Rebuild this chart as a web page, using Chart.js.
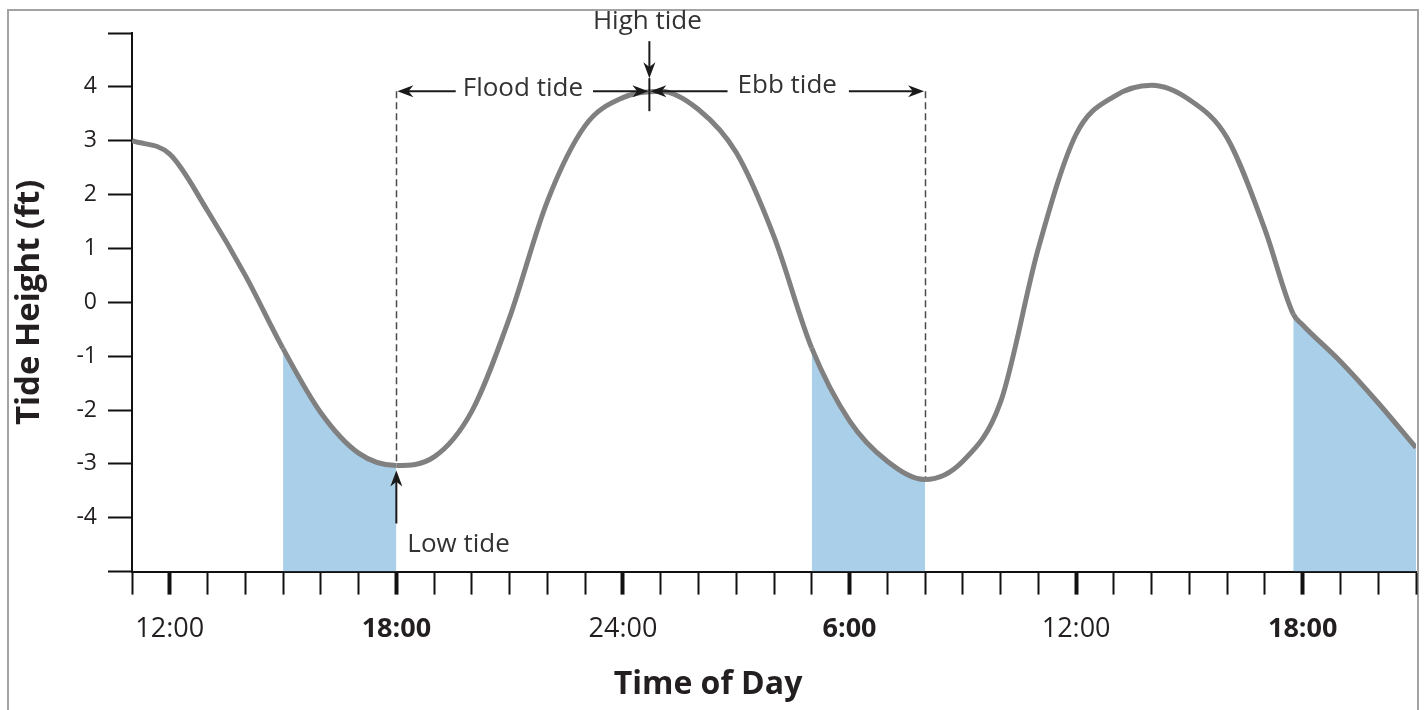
<!DOCTYPE html>
<html>
<head>
<meta charset="utf-8">
<title>Tide Height</title>
<script src="https://cdn.jsdelivr.net/npm/chart.js@4.4.1/dist/chart.umd.min.js"></script>
<style>
  html, body { margin: 0; padding: 0; background: #fff; }
  #wrap { width: 1424px; height: 710px; }
</style>
</head>
<body>
<div id="wrap"><canvas id="tideChart"></canvas></div>
<script>
// tide curve, hours counted from midnight of day 1 (24 = midnight, 30 = 6:00 next day)
var hours = [11, 12, 13, 14, 15, 16, 17, 18, 19, 20,
  21, 22, 23, 24, 25, 26, 27, 28, 29, 30,
  31, 32, 33, 34, 35, 36, 37, 38, 39, 40,
  41, 41.75, 42, 43, 44, 45];
var heights = [3.0, 2.75, 1.7, 0.5, -0.86, -2.05, -2.8, -3.03, -2.87, -2.02,
  -0.28, 1.88, 3.28, 3.8, 3.92, 3.58, 2.78, 1.22, -0.85, -2.2,
  -2.95, -3.29, -2.95, -1.85, 1.0, 3.12, 3.82, 4.03, 3.76, 3.05,
  1.35, -0.22, -0.42, -1.1, -1.87, -2.7];

// shaded stretches of falling water
var shadedRanges = [[15, 18], [29, 32], [41.75, 45]];

// x tick labels
var labelHours = [12, 18, 24, 30, 36, 42];
var labelTexts = ['12:00', '18:00', '24:00', '6:00', '12:00', '18:00'];
var boldHours = [18, 30, 42];

// the tide cycle that is annotated
var lowTideHour = 18;
var highTideHour = 24.7;
var nextLowHour = 32;

var FONT = '"Open Sans", "Noto Sans", sans-serif';
var INK = '#231f20';
var SHADE = 'rgb(170, 207, 233)';

var points = hours.map(function (h, i) { return { x: h, y: heights[i] }; });

function heightAt(h) {
  return heights[hours.indexOf(h)];
}

// high tide level = highest reading between the two lows
var highTideHeight = Math.max.apply(null, heights.filter(function (v, i) {
  return hours[i] > lowTideHour && hours[i] < nextLowHour;
}));

function isShaded(a, b) {
  return shadedRanges.some(function (r) { return a >= r[0] && b <= r[1]; });
}

function drawArrow(ctx, x1, y1, x2, y2) {
  var a = Math.atan2(y2 - y1, x2 - x1);
  var c = Math.cos(a), s = Math.sin(a);
  var len = 16, half = 6;
  ctx.beginPath();
  ctx.moveTo(x1, y1);
  ctx.lineTo(x2 - c * len * 0.6, y2 - s * len * 0.6);
  ctx.stroke();
  ctx.beginPath();
  ctx.moveTo(x2, y2);
  ctx.lineTo(x2 - c * len - s * half, y2 - s * len + c * half);
  ctx.lineTo(x2 - c * len * 0.7, y2 - s * len * 0.7);
  ctx.lineTo(x2 - c * len + s * half, y2 - s * len - c * half);
  ctx.closePath();
  ctx.fill();
}

var framePlugin = {
  id: 'frame',
  beforeDraw: function (chart) {
    var ctx = chart.ctx;
    ctx.save();
    ctx.strokeStyle = '#a3a3a3';
    ctx.lineWidth = 2;
    ctx.strokeRect(8, 10, 1410, 760);
    ctx.restore();
  }
};

var tidePlugin = {
  id: 'tideNotes',
  beforeDatasetsDraw: function (chart) {
    var ctx = chart.ctx, xs = chart.scales.x, ys = chart.scales.y;
    var level = ys.getPixelForValue(highTideHeight);
    ctx.save();
    ctx.strokeStyle = '#4a4a4a';
    ctx.lineWidth = 1.5;
    ctx.setLineDash([7, 4]);
    [lowTideHour, nextLowHour].forEach(function (h) {
      var x = Math.round(xs.getPixelForValue(h)) + 0.5;
      ctx.beginPath();
      ctx.moveTo(x, level);
      ctx.lineTo(x, ys.getPixelForValue(heightAt(h)));
      ctx.stroke();
    });
    ctx.restore();
  },
  afterDatasetsDraw: function (chart) {
    var ctx = chart.ctx, xs = chart.scales.x, ys = chart.scales.y;
    var level = ys.getPixelForValue(highTideHeight);
    var xLow = xs.getPixelForValue(lowTideHour);
    var xNext = xs.getPixelForValue(nextLowHour);
    var xPeak = xs.getPixelForValue(highTideHour);
    ctx.save();
    ctx.strokeStyle = '#1a1a1a';
    ctx.lineWidth = 2;
    ctx.font = '26px ' + FONT;
    ctx.textBaseline = 'middle';
    ctx.textAlign = 'center';

    // flood tide
    var mid = (xLow + xPeak) / 2;
    var w = ctx.measureText('Flood tide').width;
    ctx.fillStyle = '#333';
    ctx.fillText('Flood tide', mid, level - 3);
    ctx.fillStyle = '#1a1a1a';
    drawArrow(ctx, mid - w / 2 - 7, level, xLow + 1, level);
    drawArrow(ctx, mid + w / 2 + 10, level, xPeak - 1, level);

    // ebb tide
    mid = (xPeak + xNext) / 2;
    w = ctx.measureText('Ebb tide').width;
    ctx.fillStyle = '#333';
    ctx.fillText('Ebb tide', mid, level - 6);
    ctx.fillStyle = '#1a1a1a';
    drawArrow(ctx, mid - w / 2 - 10, level, xPeak + 1, level);
    drawArrow(ctx, mid + w / 2 + 12, level, xNext - 1, level);

    // high tide
    ctx.fillStyle = '#333';
    ctx.fillText('High tide', xPeak - 2, level - 70);
    ctx.fillStyle = '#1a1a1a';
    drawArrow(ctx, xPeak, level - 50, xPeak, level - 13);
    ctx.beginPath();
    ctx.moveTo(xPeak, level - 13);
    ctx.lineTo(xPeak, level + 20);
    ctx.stroke();

    // low tide
    var yLow = ys.getPixelForValue(heightAt(lowTideHour));
    drawArrow(ctx, xLow, yLow + 58, xLow, yLow + 5);
    ctx.textAlign = 'left';
    ctx.fillStyle = '#333';
    ctx.fillText('Low tide', xLow + 11, yLow + 79);
    ctx.restore();
  }
};

var ctx = document.getElementById('tideChart').getContext('2d');
var tideChart = new Chart(ctx, {
  type: 'line',
  data: {
    datasets: [{
      label: 'Tide height',
      data: points,
      borderColor: '#808080',
      borderWidth: 5,
      pointRadius: 0,
      fill: 'start',
      backgroundColor: 'rgba(0,0,0,0)',
      cubicInterpolationMode: 'monotone',
      segment: {
        backgroundColor: function (c) {
          return isShaded(c.p0.parsed.x, c.p1.parsed.x) ? SHADE : 'rgba(0,0,0,0)';
        }
      }
    }]
  },
  options: {
    responsive: true,
    maintainAspectRatio: false,
    animation: false,
    layout: { padding: { top: 33, right: 8, left: 0, bottom: 0 } },
    plugins: {
      legend: { display: false },
      tooltip: { enabled: false },
      title: {
        display: true,
        position: 'bottom',
        text: 'Time of Day',
        color: INK,
        font: { family: FONT, size: 32, weight: 'bold' },
        padding: { top: 0, bottom: 6 }
      }
    },
    scales: {
      x: {
        type: 'linear',
        min: 11,
        max: 45,
        afterFit: function (scale) { scale.height = 94; },
        border: { display: true, color: '#111', width: 2 },
        grid: {
          drawOnChartArea: false,
          drawTicks: true,
          tickLength: 23,
          tickColor: '#111',
          tickWidth: function (c) {
            return c.tick && labelHours.indexOf(c.tick.value) >= 0 ? 4 : 2;
          }
        },
        ticks: {
          stepSize: 1,
          autoSkip: false,
          maxRotation: 0,
          minRotation: 0,
          padding: 8,
          color: INK,
          font: function (c) {
            var b = c.tick && boldHours.indexOf(c.tick.value) >= 0;
            return { family: FONT, size: 27, weight: b ? 'bold' : 'normal', lineHeight: 2 };
          },
          callback: function (v) {
            var i = labelHours.indexOf(v);
            return i >= 0 ? labelTexts[i] : '';
          }
        }
      },
      y: {
        min: -5,
        max: 5,
        afterFit: function (scale) { scale.width = 132; },
        border: { display: true, color: '#111', width: 2 },
        grid: {
          drawOnChartArea: false,
          drawTicks: true,
          tickLength: 24,
          tickColor: '#111',
          tickWidth: 2
        },
        title: {
          display: true,
          text: 'Tide Height (ft)',
          color: INK,
          font: { family: FONT, size: 33, weight: 'bold' },
          padding: { top: 10, bottom: 0 }
        },
        ticks: {
          stepSize: 1,
          padding: 11,
          color: INK,
          font: { family: FONT, size: 23 },
          callback: function (v) {
            return Math.abs(v) >= 5 ? '' : String(v);
          }
        }
      }
    }
  },
  plugins: [framePlugin, tidePlugin]
});
</script>
</body>
</html>
